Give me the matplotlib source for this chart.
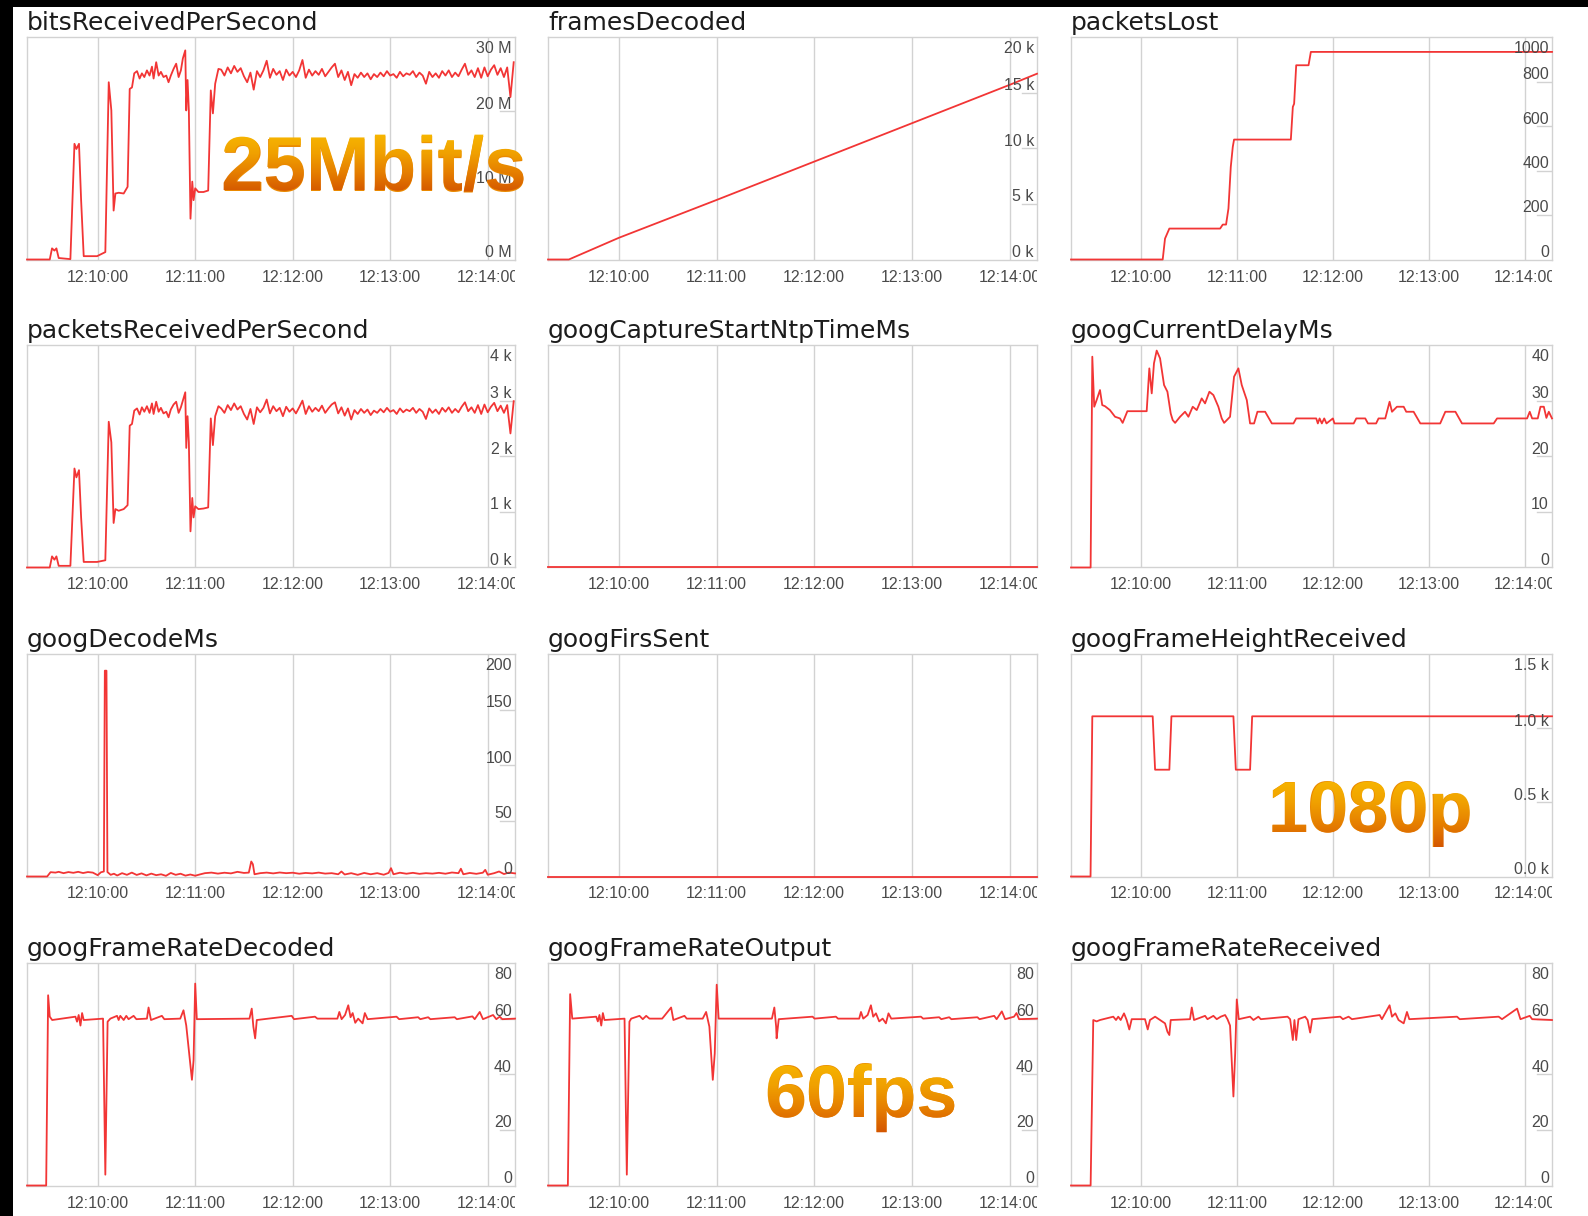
import numpy as np
import matplotlib
matplotlib.use('Agg')
import matplotlib.pyplot as plt
import matplotlib.transforms as mtransforms
from matplotlib.colors import LinearSegmentedColormap
from matplotlib.font_manager import FontProperties
from matplotlib.patches import PathPatch, Rectangle
from matplotlib.textpath import TextPath

# ---------------------------------------------------------------------------
# Data (time is seconds relative to 12:10:00)
# ---------------------------------------------------------------------------
T_START, T_END = -43.5, 256.8
grid_times = [0, 60, 120, 180, 240]
grid_labels = ['12:10:00', '12:11:00', '12:12:00', '12:13:00', '12:14:00']

# bitsReceivedPerSecond (Mbit/s) - start of the call, then a 2 s sampled tail
bits_t = [-43.5, -29.5, -28.1, -26.6, -25.4, -24.0, -16.8, -14.3, -13.1, -11.5,
          -10.2, -8.6, -0.4, 4.7, 5.7, 6.8, 8.4, 9.8, 10.9, 12.9,
          16.0, 18.4, 19.7, 21.1, 22.5, 24.2, 25.8, 27.2, 28.7, 30.3,
          31.9, 33.4, 34.4, 36.0, 37.5, 38.9, 40.5, 42.2, 43.6, 45.0,
          46.7, 48.3, 49.8, 51.2, 52.4, 53.9, 54.5, 55.3, 56.1, 57.1,
          58.2, 59.0, 60.0, 62.0, 65.1, 68.0, 69.6, 70.9, 72.3, 74.3]
bits_v = [0, 0, 1.5, 1.2, 1.5, 0.2, 0.05, 15.6, 14.9, 15.6,
          8.0, 0.45, 0.45, 1.0, 11.6, 23.9, 20.1, 6.6, 8.9, 9.0,
          8.9, 9.8, 23.0, 23.2, 25.1, 25.4, 24.4, 25.1, 24.6, 25.5,
          24.8, 26.0, 24.4, 26.6, 24.8, 25.3, 24.6, 24.8, 23.9, 24.8,
          25.7, 26.4, 24.6, 25.5, 27.1, 28.2, 20.1, 24.2, 20.1, 5.5,
          10.5, 8.0, 9.6, 9.1, 9.1, 9.3, 22.8, 19.7, 23.7, 25.7]
TAIL_START, TAIL_STEP = 76, 2
bits_tail = [25.6, 24.8, 25.9, 25.1, 26.1, 25.3, 25.8, 24.7, 23.9, 25.2,
             22.9, 25.4, 24.6, 25.5, 26.8, 24.5, 25.7, 24.9, 25.4, 24.2,
             25.6, 24.8, 25.3, 24.6, 25.5, 26.9, 24.5, 25.6, 24.8, 25.4,
             24.9, 25.7, 24.7, 25.3, 25.9, 26.4, 24.6, 25.5, 24.2, 25.3,
             23.5, 25.0, 24.5, 25.2, 24.6, 25.1, 24.3, 25.0, 24.6, 25.2,
             24.7, 25.4, 24.8, 25.0, 24.5, 25.3, 24.7, 25.1, 24.9, 25.4,
             24.6, 25.2, 24.8, 23.7, 25.3, 24.6, 25.1, 24.5, 25.4, 24.8,
             25.5, 24.6, 25.2, 24.7, 25.6, 26.4, 24.9, 25.5, 24.6, 25.8,
             24.5, 25.9, 24.7, 25.6, 26.2, 24.9, 25.8, 24.6, 25.9, 21.9,
             26.6]

# packetsReceivedPerSecond (k) - same sample times as the bitrate
pkts_v = [0, 0, 0.2, 0.14, 0.2, 0.03, 0.03, 1.78, 1.62, 1.75,
          0.9, 0.1, 0.1, 0.13, 1.3, 2.62, 2.25, 0.8, 1.05, 1.02,
          1.05, 1.12, 2.55, 2.58, 2.82, 2.86, 2.75, 2.88, 2.8, 2.9,
          2.78, 2.95, 2.76, 2.98, 2.8, 2.87, 2.77, 2.8, 2.7, 2.84,
          2.93, 2.98, 2.78, 2.88, 3.0, 3.15, 2.15, 2.72, 2.25, 0.65,
          1.25, 0.9, 1.1, 1.05, 1.06, 1.08, 2.68, 2.2, 2.72, 2.9]
pkts_tail = [2.86, 2.78, 2.92, 2.83, 2.95, 2.84, 2.90, 2.76, 2.66, 2.85,
             2.58, 2.88, 2.79, 2.87, 3.02, 2.77, 2.90, 2.81, 2.87, 2.72,
             2.89, 2.80, 2.86, 2.77, 2.88, 3.00, 2.76, 2.90, 2.80, 2.87,
             2.81, 2.91, 2.78, 2.86, 2.93, 2.97, 2.77, 2.88, 2.73, 2.86,
             2.66, 2.83, 2.76, 2.85, 2.78, 2.84, 2.74, 2.82, 2.78, 2.85,
             2.79, 2.87, 2.80, 2.83, 2.76, 2.86, 2.79, 2.84, 2.81, 2.87,
             2.78, 2.85, 2.80, 2.67, 2.86, 2.78, 2.84, 2.76, 2.87, 2.80,
             2.88, 2.78, 2.85, 2.79, 2.89, 2.97, 2.81, 2.88, 2.78, 2.92,
             2.76, 2.93, 2.79, 2.89, 2.96, 2.81, 2.91, 2.78, 2.92, 2.41,
             2.99]

# framesDecoded (k)
frames_t = [-43.5, -30.7, 0, 60, 120, 180, 240, 256.8]
frames_v = [0, 0, 1.95, 5.35, 8.8, 12.25, 15.7, 16.7]

# packetsLost
lost_t = [-43.5, 13.75, 15.2, 17.9, 49.6, 51.25, 53.3, 54.8, 56.25, 57.5,
          58.3, 93.75, 95.0, 95.8, 97.1, 104.8, 106.25, 256.8]
lost_v = [0, 0, 94, 139, 139, 157, 157, 229, 416, 506,
          539, 539, 686, 700, 873, 873, 933, 933]

# googCaptureStartNtpTimeMs and googFirsSent stay at zero
zero_t = [T_START, T_END]
zero_v = [0, 0]

# googCurrentDelayMs
delay_t = [-43.5, -31.25, -30.2, -29.0, -27.5, -25.4, -24.0, -22.3, -19.2, -16.0,
           -12.9, -11.25, -8.3, 3.75, 5.4, 6.9, 8.3, 10.0, 12.1, 14.6,
           16.7, 18.75, 20.0, 21.5, 24.6, 27.7, 29.8, 32.5, 35.0, 38.1,
           40.2, 42.9, 45.4, 48.5, 50.6, 52.1, 55.8, 58.3, 61.0, 63.1,
           66.25, 68.3, 70.8, 72.9, 77.7, 81.9, 95.4, 97.1, 109.6, 110.6,
           111.7, 113.1, 114.6, 116.0, 120.0, 121.0, 133.0, 134.6, 140.2, 141.9,
           147.0, 148.5, 152.7, 155.4, 156.9, 160.0, 164.2, 165.8, 170.4, 174.6,
           187.0, 190.2, 196.5, 200.6, 220.4, 222.5, 241.25, 242.9, 244.4, 247.9,
           249.6, 251.7, 253.3, 254.8, 256.8]
delay_v = [0, 0, 37.9, 28.9, 30.1, 31.9, 29.2, 29.0, 28.3, 27.1,
           26.8, 26.0, 28.1, 28.1, 35.8, 31.3, 36.7, 39.0, 37.6, 32.8,
           31.6, 27.7, 26.5, 26.0, 27.1, 28.0, 27.1, 28.9, 28.3, 30.4,
           29.5, 31.6, 31.0, 28.9, 26.8, 26.0, 27.1, 34.3, 35.8, 32.8,
           30.1, 25.9, 25.9, 28.0, 28.0, 25.9, 25.9, 26.8, 26.8, 25.9,
           26.8, 25.9, 26.8, 25.9, 26.8, 25.9, 25.9, 26.8, 26.8, 25.9,
           25.9, 26.8, 26.8, 29.8, 28.0, 28.9, 28.9, 28.0, 28.0, 25.9,
           25.9, 28.0, 28.0, 25.9, 25.9, 26.8, 26.8, 28.0, 26.8, 26.8,
           28.9, 28.9, 26.9, 28.0, 26.8]

# googDecodeMs
decode_t = [-43.5, -31.1, -29.0, -26.0, -24.0, -21.0, -18.0, -15.0, -12.0, -9.0,
            -6.0, -3.0, 0.0, 2.0, 3.8, 4.4, 5.4, 6.0, 8.0, 10.0,
            12.0, 15.0, 18.0, 21.0, 24.0, 27.0, 30.0, 33.0, 36.0, 39.0,
            42.0, 45.0, 48.0, 51.0, 54.0, 57.0, 60.0, 63.0, 66.0, 70.0,
            74.0, 78.0, 82.0, 86.0, 90.0, 93.0, 94.5, 95.5, 96.5, 100.0,
            104.0, 108.0, 112.0, 116.0, 120.0, 124.0, 128.0, 132.0, 136.0, 140.0,
            144.0, 148.0, 150.0, 152.0, 156.0, 160.0, 164.0, 168.0, 172.0, 176.0,
            179.0, 180.5, 182.0, 186.0, 190.0, 194.0, 198.0, 202.0, 206.0, 210.0,
            214.0, 218.0, 222.0, 223.5, 225.0, 229.0, 233.0, 237.0, 238.5, 240.0,
            244.0, 247.0, 250.0, 253.0, 256.8]
decode_v = [0, 0, 3.9, 3.5, 4.2, 3.0, 4.0, 3.3, 4.2, 3.1,
            4.0, 3.5, 1.2, 3.8, 4.5, 185, 185, 4.0, 1.5, 2.5,
            0.9, 3.0, 1.5, 3.5, 1.4, 2.8, 1.0, 2.6, 1.2, 2.0,
            0.6, 3.2, 1.5, 2.5, 0.8, 1.8, 0.7, 1.9, 3.0, 3.5,
            2.6, 3.4, 2.8, 4.2, 3.2, 3.5, 13.5, 11.0, 2.0, 3.0,
            3.5, 2.8, 3.6, 3.0, 3.4, 2.5, 3.2, 2.8, 3.5, 2.6,
            3.0, 2.0, 4.5, 1.8, 3.0, 1.5, 3.2, 2.0, 3.0, 1.6,
            3.2, 7.5, 2.0, 3.4, 2.5, 3.3, 2.4, 3.0, 2.6, 3.3,
            2.5, 3.6, 3.0, 7.0, 2.0, 3.2, 2.4, 3.4, 6.0, 1.6,
            3.0, 4.5, 2.2, 3.5, 2.8]

# googFrameHeightReceived (pixels)
height_t = [-43.5, -31.3, -30.2, 7.5, 9.0, 17.9, 19.2, 57.9, 59.4, 68.3, 69.6, 256.8]
height_v = [0, 0, 1080, 1080, 720, 720, 1080, 1080, 720, 720, 1080, 1080]

# googFrameRateDecoded
fr_dec_t = [-43.5, -31.7, -30.5, -29.5, -28.0, -13.7, -12.7, -11.7, -10.6, -9.6,
            -8.6, 3.3, 4.7, 6.1, 7.8, 11.9, 12.9, 13.9, 16.0, 17.6,
            19.0, 22.1, 23.8, 30.3, 31.3, 32.8, 39.5, 41.0, 50.8, 52.8,
            54.5, 58.0, 59.0, 60.0, 61.0, 93.4, 94.8, 95.8, 96.9, 97.9,
            119.4, 120.8, 133.7, 135.2, 147.5, 148.7, 150.1, 152.2, 154.2, 155.6,
            156.9, 158.5, 160.3, 163.0, 164.4, 166.1, 183.9, 185.5, 197.2, 198.5,
            203.4, 204.7, 219.7, 221.0, 230.6, 232.0, 235.1, 237.1, 243.3, 245.3,
            247.4, 249.0, 256.8]
fr_dec_v = [0, 0, 68.4, 60.7, 59.5, 60.7, 58.9, 61.3, 57.5, 62.0,
            59.5, 60.0, 3.9, 58.9, 60.0, 61.0, 59.5, 61.0, 59.5, 61.0,
            59.8, 61.0, 59.8, 60.0, 64.0, 59.5, 61.0, 59.8, 60.0, 63.0,
            57.5, 38.0, 45.0, 72.6, 59.8, 60.0, 63.6, 57.1, 52.9, 59.5,
            61.0, 59.8, 60.7, 60.0, 60.0, 62.4, 59.8, 61.3, 64.8, 60.5,
            62.0, 58.5, 60.0, 58.3, 62.0, 59.8, 60.7, 59.8, 60.5, 59.8,
            60.5, 59.8, 60.5, 59.8, 60.8, 59.8, 62.4, 59.8, 61.3, 59.8,
            60.7, 59.8, 60.0]

# googFrameRateOutput
fr_out_t = [-43.5, -31.3, -29.9, -28.6, -13.9, -12.9, -11.9, -10.8, -9.8, -8.8,
            3.5, 4.9, 6.5, 7.6, 12.7, 14.7, 16.8, 18.8, 26.6, 28.0,
            32.1, 33.5, 40.3, 41.7, 51.5, 53.6, 55.6, 57.7, 58.9, 60.1,
            61.3, 94.0, 95.5, 96.6, 96.9, 98.2, 119.0, 120.2, 133.3, 134.6,
            147.6, 148.7, 150.1, 152.8, 154.8, 156.2, 157.9, 159.9, 162.0, 164.0,
            165.6, 167.3, 185.5, 186.9, 196.7, 198.0, 202.9, 204.2, 220.2, 221.5,
            230.5, 232.0, 235.2, 237.2, 242.7, 244.2, 245.8, 256.8]
fr_out_v = [0, 0, 68.8, 60.0, 60.7, 59.0, 61.3, 57.5, 62.0, 59.5,
            60.0, 3.9, 58.9, 60.0, 61.0, 59.8, 61.0, 60.0, 60.0, 61.0,
            64.0, 59.5, 61.0, 60.0, 60.0, 62.4, 57.1, 38.0, 47.5, 72.2,
            60.0, 60.0, 64.0, 57.1, 52.9, 59.8, 60.7, 60.0, 60.7, 60.0,
            60.0, 62.4, 60.0, 61.3, 64.8, 60.7, 61.9, 59.0, 60.0, 58.3,
            61.9, 60.0, 60.7, 60.0, 60.5, 59.8, 60.5, 59.8, 60.5, 59.8,
            61.0, 59.8, 62.6, 59.8, 60.7, 62.0, 59.8, 60.0]

# googFrameRateReceived
fr_rcv_t = [-43.5, -31.25, -29.6, -27.5, -25.4, -17.1, -15.4, -14.0, -12.5, -10.4,
            -8.75, -7.1, -5.6, 2.7, 4.4, 5.8, 9.0, 12.1, 15.2, 16.7,
            17.9, 18.75, 30.8, 31.9, 33.3, 40.2, 41.7, 45.4, 47.5, 50.0,
            52.7, 54.2, 55.8, 57.9, 59.0, 60.0, 61.25, 68.3, 70.4, 73.5,
            75.0, 91.7, 93.3, 95.0, 96.0, 97.1, 98.5, 102.7, 104.2, 105.8,
            107.1, 124.6, 126.25, 129.8, 131.9, 149.2, 150.6, 155.4, 156.9, 159.0,
            161.0, 164.2, 166.25, 167.7, 197.5, 199.2, 223.5, 225.6, 235.0, 237.1,
            242.9, 244.4, 256.8]
fr_rcv_v = [0, 0, 59.5, 59.0, 59.5, 60.7, 59.5, 60.7, 59.5, 61.9,
            59.5, 56.1, 59.8, 59.8, 56.1, 59.5, 60.7, 59.5, 58.3, 55.3,
            54.1, 59.5, 59.8, 64.0, 59.5, 61.0, 59.8, 61.0, 59.8, 60.7,
            61.3, 59.8, 57.5, 32.0, 47.5, 66.9, 59.8, 60.7, 59.5, 60.7,
            59.8, 60.7, 59.8, 52.3, 59.5, 52.3, 59.8, 60.7, 59.5, 55.0,
            59.8, 60.7, 59.8, 60.7, 59.8, 61.3, 59.8, 64.8, 60.7, 61.9,
            59.5, 58.3, 62.4, 59.8, 60.7, 59.8, 60.7, 59.8, 63.6, 59.8,
            61.0, 59.8, 59.5]

# ---------------------------------------------------------------------------
# Layout (pixels of the 1588 x 1216 screenshot)
# ---------------------------------------------------------------------------
W, H = 1588, 1216
COL_X = [27, 548, 1071]
COL_W = [488, 489, 481]
ROW_TOP = [37, 345, 654, 963]
BOX_H = 222.5

GRID_COLOR = '#d2d2d2'
LINE_COLOR = '#f23535'
LABEL_COLOR = '#4a4a4a'
TITLE_COLOR = '#1c1c1c'

fig = plt.figure(figsize=(W / 100, H / 100), dpi=100, facecolor='white')


def draw_panel(col, row, title, t, v, ymax, ticks, labels):
    x0, w = COL_X[col], COL_W[col]
    top = ROW_TOP[row]
    ax = fig.add_axes([x0 / W, 1 - (top + BOX_H) / H, w / W, BOX_H / H])
    ax.set_xlim(T_START, T_END)
    ax.set_ylim(0, ymax)
    ax.set_xticks([])
    ax.set_yticks([])
    for sp in ax.spines.values():
        sp.set_color(GRID_COLOR)
        sp.set_linewidth(1.0)

    # vertical minute grid
    for g in grid_times:
        ax.axvline(g, color=GRID_COLOR, lw=1.0, zorder=1)

    ax.plot(t, v, color=LINE_COLOR, lw=1.3, zorder=3, clip_on=False,
            solid_joinstyle='round')

    # title above the box
    fig.text(x0 / W, 1 - (top - 7) / H, title, fontsize=18,
             family='DejaVu Sans', color=TITLE_COLOR, va='baseline', ha='left')

    # time labels, clipped at the right edge of the canvas like the browser does
    clip = mtransforms.TransformedBbox(
        mtransforms.Bbox.from_extents(0, 0, (x0 + w) / W, 1), fig.transFigure)
    xtr = mtransforms.blended_transform_factory(ax.transData, ax.transAxes)
    for g, lab in zip(grid_times, grid_labels):
        txt = fig.text(g, -22 / BOX_H, lab, transform=xtr, ha='center',
                       va='baseline', fontsize=11.5, family='Liberation Sans',
                       color=LABEL_COLOR)
        txt.set_clip_box(clip)
        txt.set_clip_on(True)

    # value labels on the right, sitting above a short tick
    for val, lab in zip(ticks, labels):
        f = val / ymax
        if f >= 0.999:
            y = 1 - 16 / BOX_H
        else:
            y = f + 2.5 / BOX_H
            if f > 0:
                ax.plot([1 - 15 / w, 1], [f, f], transform=ax.transAxes,
                        color=GRID_COLOR, lw=1.0, zorder=1)
        ax.text(1 - 3 / w, y, lab, transform=ax.transAxes, ha='right',
                va='baseline', fontsize=11.5, family='Liberation Sans',
                color=LABEL_COLOR, zorder=4)
    return ax


def orange_text(ov, s, x, baseline, size_pt, cmap):
    # solid text underneath, gradient fill clipped to the same glyph outline
    fp = FontProperties(family='Liberation Sans', weight='bold')
    ov.text(x, H - baseline, s, fontproperties=fp, fontsize=size_pt,
            color='#ea8900', ha='left', va='baseline', zorder=5)
    path = TextPath((x, H - baseline), s, size=size_pt * 100 / 72, prop=fp)
    patch = PathPatch(path, facecolor='none', edgecolor='none')
    ov.add_patch(patch)
    ext = path.get_extents()
    grad = np.linspace(0, 1, 256).reshape(-1, 1)
    im = ov.imshow(grad, cmap=cmap, origin='lower', aspect='auto',
                   extent=[ext.x0 - 1, ext.x1 + 1, ext.y0 - 1, ext.y1 + 1], zorder=6)
    im.set_clip_path(patch)


def main():
    tail_t = [TAIL_START + TAIL_STEP * i for i in range(len(bits_tail))]
    bits_all_t = bits_t + tail_t
    bits_all_v = bits_v + bits_tail
    pkts_all_v = pkts_v + pkts_tail

    k = lambda vals: [x / 1000 for x in vals]
    fps_ticks = [0, 20, 40, 60, 80]
    fps_labels = ['0', '20', '40', '60', '80']

    draw_panel(0, 0, 'bitsReceivedPerSecond', bits_all_t, bits_all_v, 30,
               [0, 10, 20, 30], ['0 M', '10 M', '20 M', '30 M'])
    draw_panel(1, 0, 'framesDecoded', frames_t, frames_v, 20,
               [0, 5, 10, 15, 20], ['0 k', '5 k', '10 k', '15 k', '20 k'])
    draw_panel(2, 0, 'packetsLost', lost_t, lost_v, 1000,
               [0, 200, 400, 600, 800, 1000], ['0', '200', '400', '600', '800', '1000'])

    draw_panel(0, 1, 'packetsReceivedPerSecond', bits_all_t, pkts_all_v, 4,
               [0, 1, 2, 3, 4], ['0 k', '1 k', '2 k', '3 k', '4 k'])
    draw_panel(1, 1, 'googCaptureStartNtpTimeMs', zero_t, zero_v, 1, [], [])
    draw_panel(2, 1, 'googCurrentDelayMs', delay_t, delay_v, 40,
               [0, 10, 20, 30, 40], ['0', '10', '20', '30', '40'])

    draw_panel(0, 2, 'googDecodeMs', decode_t, decode_v, 200,
               [0, 50, 100, 150, 200], ['0', '50', '100', '150', '200'])
    draw_panel(1, 2, 'googFirsSent', zero_t, zero_v, 1, [], [])
    draw_panel(2, 2, 'googFrameHeightReceived', height_t, k(height_v), 1.5,
               [0, 0.5, 1.0, 1.5], ['0.0 k', '0.5 k', '1.0 k', '1.5 k'])

    draw_panel(0, 3, 'googFrameRateDecoded', fr_dec_t, fr_dec_v, 80, fps_ticks, fps_labels)
    draw_panel(1, 3, 'googFrameRateOutput', fr_out_t, fr_out_v, 80, fps_ticks, fps_labels)
    draw_panel(2, 3, 'googFrameRateReceived', fr_rcv_t, fr_rcv_v, 80, fps_ticks, fps_labels)

    # big orange annotations on top of the charts
    ov = fig.add_axes([0, 0, 1, 1], zorder=10)
    ov.patch.set_visible(False)
    ov.axis('off')
    cmap = LinearSegmentedColormap.from_list(
        'annot', ['#d35400', '#e57d00', '#f0a000', '#f7b600'])
    orange_text(ov, '25Mbit/s', 221, 190, 55, cmap)
    orange_text(ov, '1080p', 1268, 832, 52, cmap)
    orange_text(ov, '60fps', 765, 1117, 53, cmap)
    ov.set_xlim(0, W)
    ov.set_ylim(0, H)

    # black screenshot border on the top and left
    fig.add_artist(Rectangle((0, 0), 13 / W, 1, transform=fig.transFigure,
                             facecolor='black', edgecolor='none', zorder=20))
    fig.add_artist(Rectangle((0, 1 - 7 / H), 1, 7 / H, transform=fig.transFigure,
                             facecolor='black', edgecolor='none', zorder=20))

    fig.savefig('out.png', dpi=100, facecolor='white')


if __name__ == '__main__':
    main()
